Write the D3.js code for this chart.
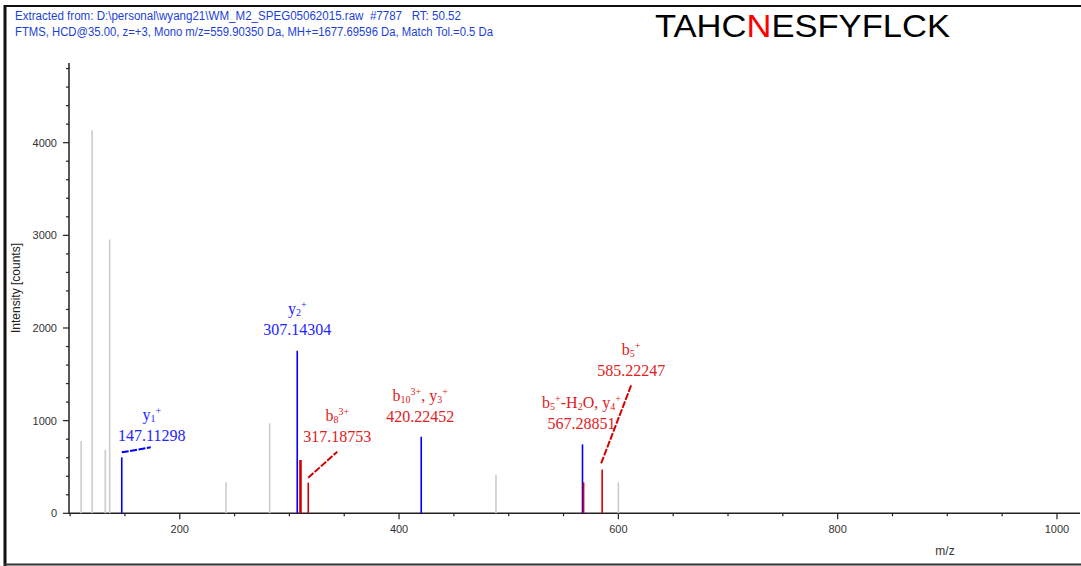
<!DOCTYPE html>
<html>
<head>
<meta charset="utf-8">
<script src="https://cdn.jsdelivr.net/npm/d3@7"></script>
<style>
  html, body { margin: 0; padding: 0; background: #fff; }
  svg { display: block; }
  text { white-space: pre; }
</style>
</head>
<body>
<svg id="chart" width="1081" height="566"></svg>
<script>
// ---- spectrum data -------------------------------------------------------
// unassigned peaks (m/z, intensity)
const greyMz        = [110.07, 120.08, 132.10, 136.08, 242.20, 282.00, 488.40, 600.00];
const greyIntensity = [780,    4135,   683,    2955,   334,    971,    413,    334];

// matched peaks
const matchMz        = [147.11298, 307.14304, 310.10, 317.18753, 420.22452, 567.28851, 568.30, 585.22247];
const matchIntensity = [604,       1754,      575,    330,       826,       744,       334,    474];
const matchKind      = ["y",       "y",       "b",    "b",       "y",       "y",       "b",    "b"];

// annotations: peak index, ion name parts, m/z text, colour kind
const annoPeak  = [0, 1, 3, 4, 5, 7];
const annoIon   = [
  [["y"], ["1", "sub"], ["+", "sup"]],
  [["y"], ["2", "sub"], ["+", "sup"]],
  [["b"], ["8", "sub"], ["3+", "sup"]],
  [["b"], ["10", "sub"], ["3+", "sup"], [", y"], ["3", "sub"], ["+", "sup"]],
  [["b"], ["5", "sub"], ["+", "sup"], ["-H"], ["2", "sub"], ["O, y"], ["4", "sub"], ["+", "sup"]],
  [["b"], ["5", "sub"], ["+", "sup"]]
];
const annoText  = ["147.11298", "307.14304", "317.18753", "420.22452", "567.28851", "585.22247"];
const annoKind  = ["y", "y", "b", "b", "b", "b"];

// axis ticks
const xTicks = [200, 400, 600, 800, 1000];
const yTicks = [0, 1000, 2000, 3000, 4000];

const headerLines = [
  "Extracted from: D:\\personal\\wyang21\\WM_M2_SPEG05062015.raw  #7787   RT: 50.52",
  "FTMS, HCD@35.00, z=+3, Mono m/z=559.90350 Da, MH+=1677.69596 Da, Match Tol.=0.5 Da"
];
const sequence = "TAHCNESFYFLCK";
const modifiedResidue = 4;

// ---- layout --------------------------------------------------------------
const svg = d3.select("#chart");
const W = 1081, H = 566;
const plot = { left: 69, right: 1080, top: 63, bottom: 513.3 };

const x = d3.scaleLinear().domain([99, 1021]).range([plot.left, plot.right]);
const y = d3.scaleLinear().domain([0, 4860]).range([plot.bottom, plot.top]);

const lineColor = { y: "#0000ff", b: "#d40000" };
const textColor = { y: "#2323ff", b: "#e02020" };

// label placement relative to the peak top (pixels)
const annoLayout = [
  { dx: 30,  dy: -16, leader: [[0, -5], [29, -10]] },
  { dx: 0,   dy: -16, leader: null },
  { dx: 29,  dy: -41, leader: [[0, -5], [29, -31]] },
  { dx: -1,  dy: -15, leader: null },
  { dx: -1,  dy: -15, leader: null },
  { dx: 29,  dy: -93, leader: [[-1, -6], [29, -84]] }
];

// frame
svg.append("rect").attr("x", 0).attr("y", 0).attr("width", W).attr("height", H).attr("fill", "#fff");
svg.append("line").attr("x1", 5).attr("x2", 5).attr("y1", 5).attr("y2", 566)
  .attr("stroke", "#111").attr("stroke-width", 3);
svg.append("line").attr("x1", 4).attr("x2", W).attr("y1", 6).attr("y2", 6)
  .attr("stroke", "#111").attr("stroke-width", 2);
svg.append("line").attr("x1", 4).attr("x2", W).attr("y1", 564.5).attr("y2", 564.5)
  .attr("stroke", "#333").attr("stroke-width", 2);

// header
svg.selectAll("text.header").data(headerLines).enter().append("text")
  .attr("class", "header")
  .attr("x", 15)
  .attr("y", (d, i) => 20 + i * 15.5)
  .attr("font-family", "Arial, 'Liberation Sans', sans-serif")
  .attr("font-size", 12)
  .attr("fill", "#1c3fd6")
  .attr("textLength", (d, i) => i === 0 ? 446 : 478)
  .attr("lengthAdjust", "spacingAndGlyphs")
  .text(d => d);

// peptide sequence
const title = svg.append("text")
  .attr("x", 655).attr("y", 37)
  .attr("font-family", "Arial, 'Liberation Sans', sans-serif")
  .attr("font-size", 31)
  .attr("textLength", 295)
  .attr("lengthAdjust", "spacingAndGlyphs");
sequence.split("").forEach((c, i) => {
  title.append("tspan").attr("fill", i === modifiedResidue ? "#ff0000" : "#000").text(c);
});

// axes
const axisColor = "#222";
const gx = svg.append("g").attr("transform", `translate(0,${plot.bottom})`);
gx.append("line").attr("x1", plot.left).attr("x2", plot.right).attr("y1", 0).attr("y2", 0)
  .attr("stroke", axisColor).attr("stroke-width", 1.5);
const xMinor = d3.range(100, 1021, 50);
gx.selectAll("line.minor").data(xMinor).enter().append("line")
  .attr("x1", d => x(d)).attr("x2", d => x(d))
  .attr("y1", 0).attr("y2", d => d % 200 === 0 ? 6 : 3)
  .attr("stroke", axisColor).attr("stroke-width", 1.2);
gx.selectAll("text").data(xTicks).enter().append("text")
  .attr("x", d => x(d)).attr("y", 20)
  .attr("text-anchor", "middle")
  .attr("font-family", "Arial, 'Liberation Sans', sans-serif")
  .attr("font-size", 11).attr("fill", "#333")
  .text(d => d);
svg.append("text").attr("x", 945).attr("y", 555)
  .attr("text-anchor", "middle")
  .attr("font-family", "Arial, 'Liberation Sans', sans-serif")
  .attr("font-size", 12).attr("fill", "#333").text("m/z");

const gy = svg.append("g").attr("transform", `translate(${plot.left},0)`);
gy.append("line").attr("x1", 0).attr("x2", 0).attr("y1", plot.top).attr("y2", plot.bottom)
  .attr("stroke", axisColor).attr("stroke-width", 1.5);
const yMinor = d3.range(0, 4801, 200);
gy.selectAll("line.minor").data(yMinor).enter().append("line")
  .attr("x1", d => d % 1000 === 0 ? -6 : -3).attr("x2", 0)
  .attr("y1", d => y(d)).attr("y2", d => y(d))
  .attr("stroke", axisColor).attr("stroke-width", 1.2);
gy.selectAll("text").data(yTicks).enter().append("text")
  .attr("x", -12).attr("y", d => y(d) + 4)
  .attr("text-anchor", "end")
  .attr("font-family", "Arial, 'Liberation Sans', sans-serif")
  .attr("font-size", 11).attr("fill", "#333")
  .text(d => d);
svg.append("text")
  .attr("transform", "translate(20,288) rotate(-90)")
  .attr("text-anchor", "middle")
  .attr("font-family", "Arial, 'Liberation Sans', sans-serif")
  .attr("font-size", 12).attr("fill", "#222")
  .text("Intensity [counts]");

// peaks
const grey = greyMz.map((m, i) => ({ mz: m, v: greyIntensity[i] }));
svg.selectAll("line.grey").data(grey).enter().append("line")
  .attr("x1", d => x(d.mz)).attr("x2", d => x(d.mz))
  .attr("y1", plot.bottom).attr("y2", d => y(d.v))
  .attr("stroke", "#cccccc").attr("stroke-width", 1.6);

const matched = matchMz.map((m, i) => ({ mz: m, v: matchIntensity[i], k: matchKind[i] }));
svg.selectAll("line.match").data(matched).enter().append("line")
  .attr("x1", d => x(d.mz)).attr("x2", d => x(d.mz))
  .attr("y1", plot.bottom).attr("y2", d => y(d.v))
  .attr("stroke", d => lineColor[d.k])
  .attr("stroke-width", (d, i) => i === 2 ? 2.6 : 1.6);

// annotations
annoPeak.forEach((pi, i) => {
  const px = x(matchMz[pi]), py = y(matchIntensity[pi]);
  const L = annoLayout[i];
  const cx = px + L.dx, base = py + L.dy;
  const col = textColor[annoKind[i]];
  const g = svg.append("g").attr("font-family", "'Liberation Serif', 'Times New Roman', serif").attr("fill", col);

  const ion = g.append("text").attr("x", cx).attr("y", base - 21)
    .attr("text-anchor", "middle").attr("font-size", 16);
  annoIon[i].forEach(part => {
    const t = ion.append("tspan").text(part[0]);
    if (part[1] === "sub") t.attr("font-size", 10).attr("baseline-shift", "-2");
    else if (part[1] === "sup") t.attr("font-size", 10).attr("baseline-shift", "6");
  });

  g.append("text").attr("x", cx).attr("y", base)
    .attr("text-anchor", "middle").attr("font-size", 16)
    .text(annoText[i]);

  if (L.leader) {
    svg.append("line")
      .attr("x1", px + L.leader[0][0]).attr("y1", py + L.leader[0][1])
      .attr("x2", px + L.leader[1][0]).attr("y2", py + L.leader[1][1])
      .attr("stroke", lineColor[annoKind[i]]).attr("stroke-width", 2)
      .attr("stroke-dasharray", "7,1.5");
  }
});
</script>
</body>
</html>
